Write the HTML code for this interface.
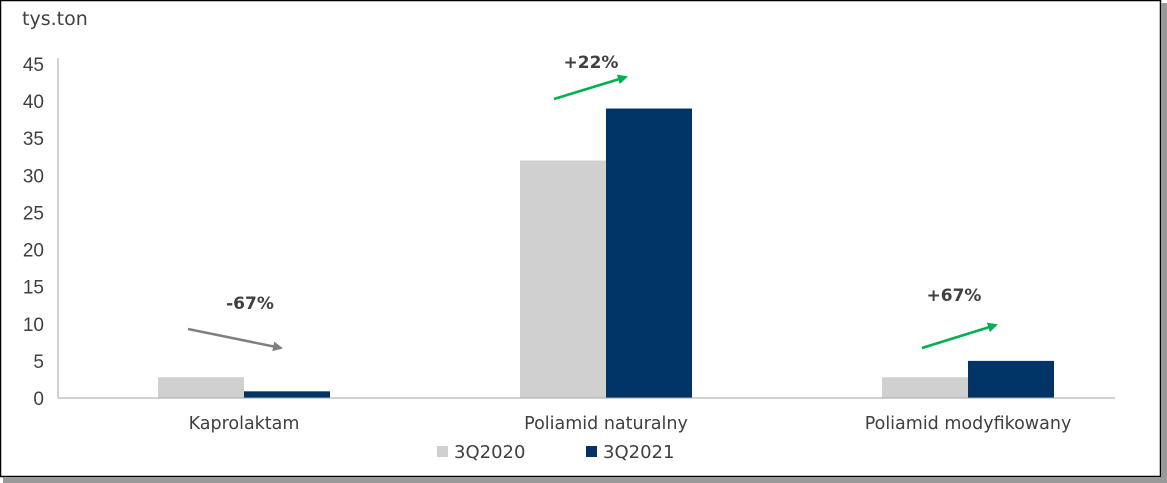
<!DOCTYPE html>
<html><head><meta charset="utf-8"><style>
body{margin:0;background:#fff;}
svg{display:block;font-family:"DejaVu Sans","Liberation Sans",sans-serif;}
</style></head><body>
<svg id="c" width="1167" height="483">
<rect x="0.5" y="0.5" width="1160" height="476" fill="#fff" stroke="#000" stroke-width="1.5"/>
<rect x="1161" y="3" width="6" height="480" fill="#999"/>
<rect x="3" y="477" width="1164" height="6" fill="#999"/>
<text x="22" y="25" font-size="19" fill="#404040">tys.ton</text>
<g id="ticks"></g>
<line x1="58" y1="58" x2="58" y2="398" stroke="#a6a6a6"/>
<g id="bars"></g>
<line x1="58" y1="398" x2="1115" y2="398" stroke="#a6a6a6"/>
<g id="labels"></g>
<defs>
<marker id="ag" markerWidth="10" markerHeight="10" refX="8" refY="5" orient="auto" markerUnits="userSpaceOnUse"><path d="M0,0L10,5L0,10z" fill="#00b050"/></marker>
<marker id="ay" markerWidth="10" markerHeight="10" refX="8" refY="5" orient="auto" markerUnits="userSpaceOnUse"><path d="M0,0L10,5L0,10z" fill="#808080"/></marker>
</defs>
<line x1="188" y1="329" x2="281" y2="348" stroke="#808080" stroke-width="2.5" marker-end="url(#ay)"/>
<text x="250" y="309" font-size="17" font-weight="bold" fill="#404040" text-anchor="middle">-67%</text>
<line x1="554" y1="99" x2="626" y2="77" stroke="#00b050" stroke-width="2.5" marker-end="url(#ag)"/>
<text x="591" y="68" font-size="17" font-weight="bold" fill="#404040" text-anchor="middle">+22%</text>
<line x1="922" y1="348" x2="996" y2="325" stroke="#00b050" stroke-width="2.5" marker-end="url(#ag)"/>
<text x="954" y="301" font-size="17" font-weight="bold" fill="#404040" text-anchor="middle">+67%</text>
<rect x="437" y="446" width="11" height="11" fill="#d0d0d0"/>
<text x="454" y="458" font-size="18" fill="#404040">3Q2020</text>
<rect x="586" y="446" width="11" height="11" fill="#003366"/>
<text x="603" y="458" font-size="18" fill="#404040">3Q2021</text>
</svg>
<script>
const categories=["Kaprolaktam","Poliamid naturalny","Poliamid modyfikowany"];
const s2020=[2.8,32,2.8];
const s2021=[0.9,39,5];
const tickValues=[0,5,10,15,20,25,30,35,40,45];
const NS="http://www.w3.org/2000/svg";
const y=v=>398-v*(334/45);
const catCenter=i=>244+i*362;
const bw=86;
function mk(t,a,p){const e=document.createElementNS(NS,t);for(const k in a)e.setAttribute(k,a[k]);p.appendChild(e);return e;}
const tg=document.getElementById('ticks');
tickValues.forEach(v=>{const t=mk('text',{x:44,y:y(v)+7,'font-size':19,fill:'#404040','text-anchor':'end','font-family':'Liberation Sans, sans-serif'},tg);t.textContent=v;

});
const bg=document.getElementById('bars'),lg=document.getElementById('labels');
categories.forEach((c,i)=>{
const cx=catCenter(i);
const a=mk('rect',{x:cx-bw,y:y(s2020[i]),width:bw,height:398-y(s2020[i]),fill:'#d0d0d0'},bg);


const b=mk('rect',{x:cx,y:y(s2021[i]),width:bw,height:398-y(s2021[i]),fill:'#003366'},bg);


const t=mk('text',{x:cx,y:429,'font-size':17.5,fill:'#404040','text-anchor':'middle'},lg);t.textContent=c;


});
</script>
</body></html>
